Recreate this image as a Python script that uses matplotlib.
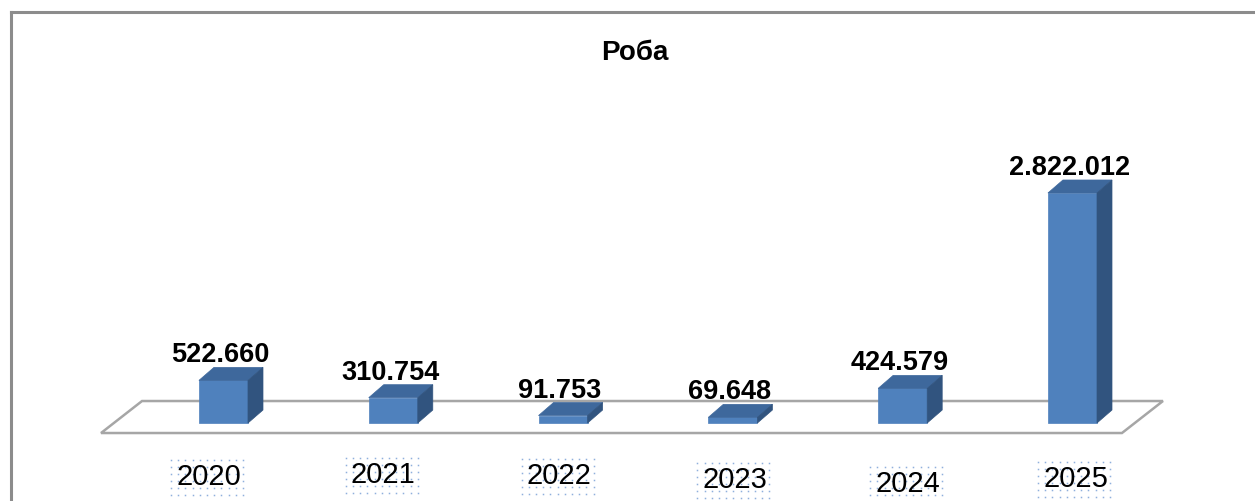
import matplotlib
matplotlib.use('Agg')
import matplotlib.pyplot as plt
import numpy as np
from matplotlib.patches import Polygon
from matplotlib.lines import Line2D

# data
years = ['2020', '2021', '2022', '2023', '2024', '2025']
values = [522660, 310754, 91753, 69648, 424579, 2822012]
title = 'Роба'

plt.rcParams['font.family'] = ['Liberation Sans', 'DejaVu Sans']

W, H = 1255, 501
fig = plt.figure(figsize=(W / 100, H / 100), dpi=100)
ax = fig.add_axes([0, 0, 1, 1])
ax.axis('off')

top = max(values)
ax.set_xlim(-1.316, 6.075)
ax.set_ylim(-0.339 * top, 1.839 * top)
px = (ax.get_xlim()[1] - ax.get_xlim()[0]) / W   # data units per pixel
py = (ax.get_ylim()[1] - ax.get_ylim()[0]) / H

front_c = '#4F81BD'
top_c = '#3E689C'
side_c = '#31547F'
bw = 0.289
dx, dy = 15 * px, 13 * py

# floor of the 3d plot
n = len(values)
x0, x1 = -0.721, n - 1 + 0.2915
floor = Polygon([(x0, -10 * py), (x1, -10 * py),
                 (x1 + 41 * px, 22 * py), (x0 + 41 * px, 22 * py)],
                closed=True, fc='white', ec='#A6A6A6', lw=1.8, zorder=1)
ax.add_patch(floor)

# bars
for i, v in enumerate(values):
    l, r = i - bw / 2, i + bw / 2
    ax.add_patch(Polygon([(l, 0), (r, 0), (r, v), (l, v)], closed=True,
                         fc=front_c, ec=front_c, lw=0.5, zorder=2))
    ax.add_patch(Polygon([(l, v), (r, v), (r + dx, v + dy), (l + dx, v + dy)],
                         closed=True, fc=top_c, ec=top_c, lw=0.5, zorder=2))
    ax.add_patch(Polygon([(r, 0), (r + dx, dy), (r + dx, v + dy), (r, v)],
                         closed=True, fc=side_c, ec=side_c, lw=0.5, zorder=2))

    # value labels, formatted with dots as thousand separators
    base = max(v + dy, 14 * py)
    ax.annotate(f"{v:,}".replace(',', '.'), (i, base), xytext=(-3, 5),
                textcoords='offset pixels', ha='center', va='baseline',
                fontsize=19.5, fontweight='bold', zorder=3)

# category labels (slightly jittered like in the original)
lab_dx = [-15, -10, -4, 2, 5, 3]
lab_dy = [62, 60, 61, 65, 69, 64]
labels = []
for i, y in enumerate(years):
    t = ax.annotate(y, (i, 0), xytext=(lab_dx[i], -lab_dy[i]),
                    textcoords='offset pixels', ha='center', va='baseline',
                    fontsize=21, zorder=3)
    labels.append(t)

# dotted selection boxes behind the category labels
fig.canvas.draw()
inv = ax.transData.inverted()
for t in labels:
    bb = t.get_window_extent()
    gx = np.arange(bb.x0 - 5, bb.x1 + 6, 7.2)
    gy = np.arange(bb.y0 - 4, bb.y1 + 5, 7.0)
    X, Y = np.meshgrid(gx, gy)
    pts = inv.transform(np.column_stack([X.ravel(), Y.ravel()]))
    ax.plot(pts[:, 0], pts[:, 1], 's', ms=1.1, mew=0, color='#8FB0DD',
            ls='none', zorder=0)

# title and chart frame
fig.text(635 / W, 1 - 59.5 / H, title, ha='center', va='baseline',
         fontsize=20, fontweight='bold')
fig.add_artist(Line2D([10.5 / W, 10.5 / W], [0, 1 - 11.5 / H],
                      transform=fig.transFigure, color='#8C8C8C', lw=2.2))
fig.add_artist(Line2D([10.5 / W, 1], [1 - 11.5 / H, 1 - 11.5 / H],
                      transform=fig.transFigure, color='#8C8C8C', lw=2.2))

fig.savefig('out.png', dpi=100)
